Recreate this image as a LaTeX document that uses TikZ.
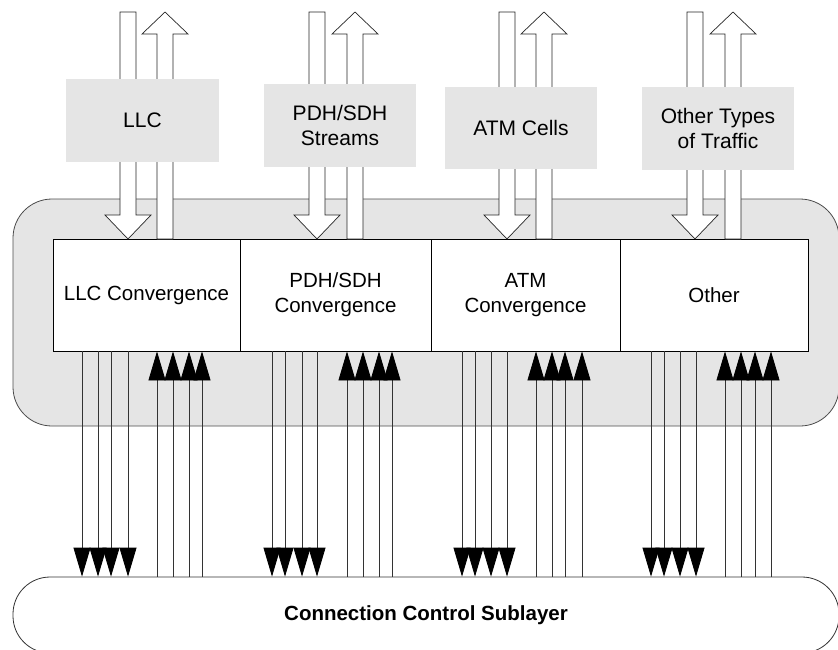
\documentclass[tikz,border=0pt]{standalone}
\usepackage{fontspec}
\setmainfont{Liberation Sans}
\usetikzlibrary{arrows.meta}
\begin{document}
\begin{tikzpicture}[x=1pt,y=-1pt,
  lbl/.style={fill=black!10, inner sep=0pt, font=\fontsize{21}{25}\selectfont, align=center},
  conv/.style={draw=black, fill=white, line width=0.8pt, inner sep=0pt, minimum height=112pt, font=\fontsize{20.5}{25}\selectfont, align=center},
  wire/.style={draw=black!80, line width=0.8pt},
  dnarr/.style={wire, -{Triangle[width=17pt,length=29pt,color=black]}},
  bigarrow/.style={draw=black!85, fill=white, line width=0.7pt, line join=miter},
  region/.style={draw=black!70, fill=black!10, line width=0.8pt, rounded corners=39pt}
]
\clip (0,0) rectangle (838,649);

% convergence sublayer region
\path[region] (13,199) rectangle (839,426);

% connection control sublayer
\node[draw=black!80, fill=white, line width=0.8pt, rounded corners=37pt, minimum width=826pt, minimum height=76pt, inner sep=0pt,
      font=\bfseries\fontsize{20.5}{24}\selectfont] (ccs) at (426,615) {Connection Control Sublayer};

% convergence boxes
\node[conv, minimum width=187pt] (cllc) at (146.5,295) {LLC Convergence};
\node[conv, minimum width=191pt] (cpdh) at (335.5,295) {PDH/SDH\\Convergence};
\node[conv, minimum width=189pt] (catm) at (525.5,295) {ATM\\Convergence};
\node[conv, minimum width=188pt] (coth) at (714,295) {Other};

% small connectors
\foreach \x in {82,98,111,128}   \draw[dnarr] (cllc.south -| \x,0) -- (ccs.north -| \x,0);
\foreach \x in {157,173,189,202} \draw[dnarr] (ccs.north -| \x,0) -- (cllc.south -| \x,0);
\foreach \x in {272,285,302,317} \draw[dnarr] (cpdh.south -| \x,0) -- (ccs.north -| \x,0);
\foreach \x in {347,363,379,392} \draw[dnarr] (ccs.north -| \x,0) -- (cpdh.south -| \x,0);
\foreach \x in {462,475,491,507} \draw[dnarr] (catm.south -| \x,0) -- (ccs.north -| \x,0);
\foreach \x in {536,552,565,582} \draw[dnarr] (ccs.north -| \x,0) -- (catm.south -| \x,0);
\foreach \x in {651,664,680,696} \draw[dnarr] (coth.south -| \x,0) -- (ccs.north -| \x,0);
\foreach \x in {725,741,755,771} \draw[dnarr] (ccs.north -| \x,0) -- (coth.south -| \x,0);

% big hollow arrows
\foreach \d/\u in {128/165, 317/355, 507/544, 695/733}{
  \draw[bigarrow] (\d-8,12) -- (\d+8,12) -- (\d+8,215) -- (\d+23,215) -- (\d,239) -- (\d-23,215) -- (\d-8,215) -- cycle;
  \draw[bigarrow] (\u-8,239) -- (\u-8,34) -- (\u-23,34) -- (\u,12) -- (\u+23,34) -- (\u+8,34) -- (\u+8,239) -- cycle;
}

% traffic labels
\node[lbl, minimum width=153pt, minimum height=83pt] (tllc) at (142.5,120.5) {LLC};
\node[lbl, minimum width=152pt, minimum height=83pt] (tpdh) at (340,125.5) {PDH/SDH\\Streams};
\node[lbl, minimum width=152pt, minimum height=82pt] (tatm) at (521,128) {ATM Cells};
\node[lbl, minimum width=152pt, minimum height=83pt] (toth) at (718,128.5) {Other Types\\of Traffic};
\end{tikzpicture}
\end{document}
